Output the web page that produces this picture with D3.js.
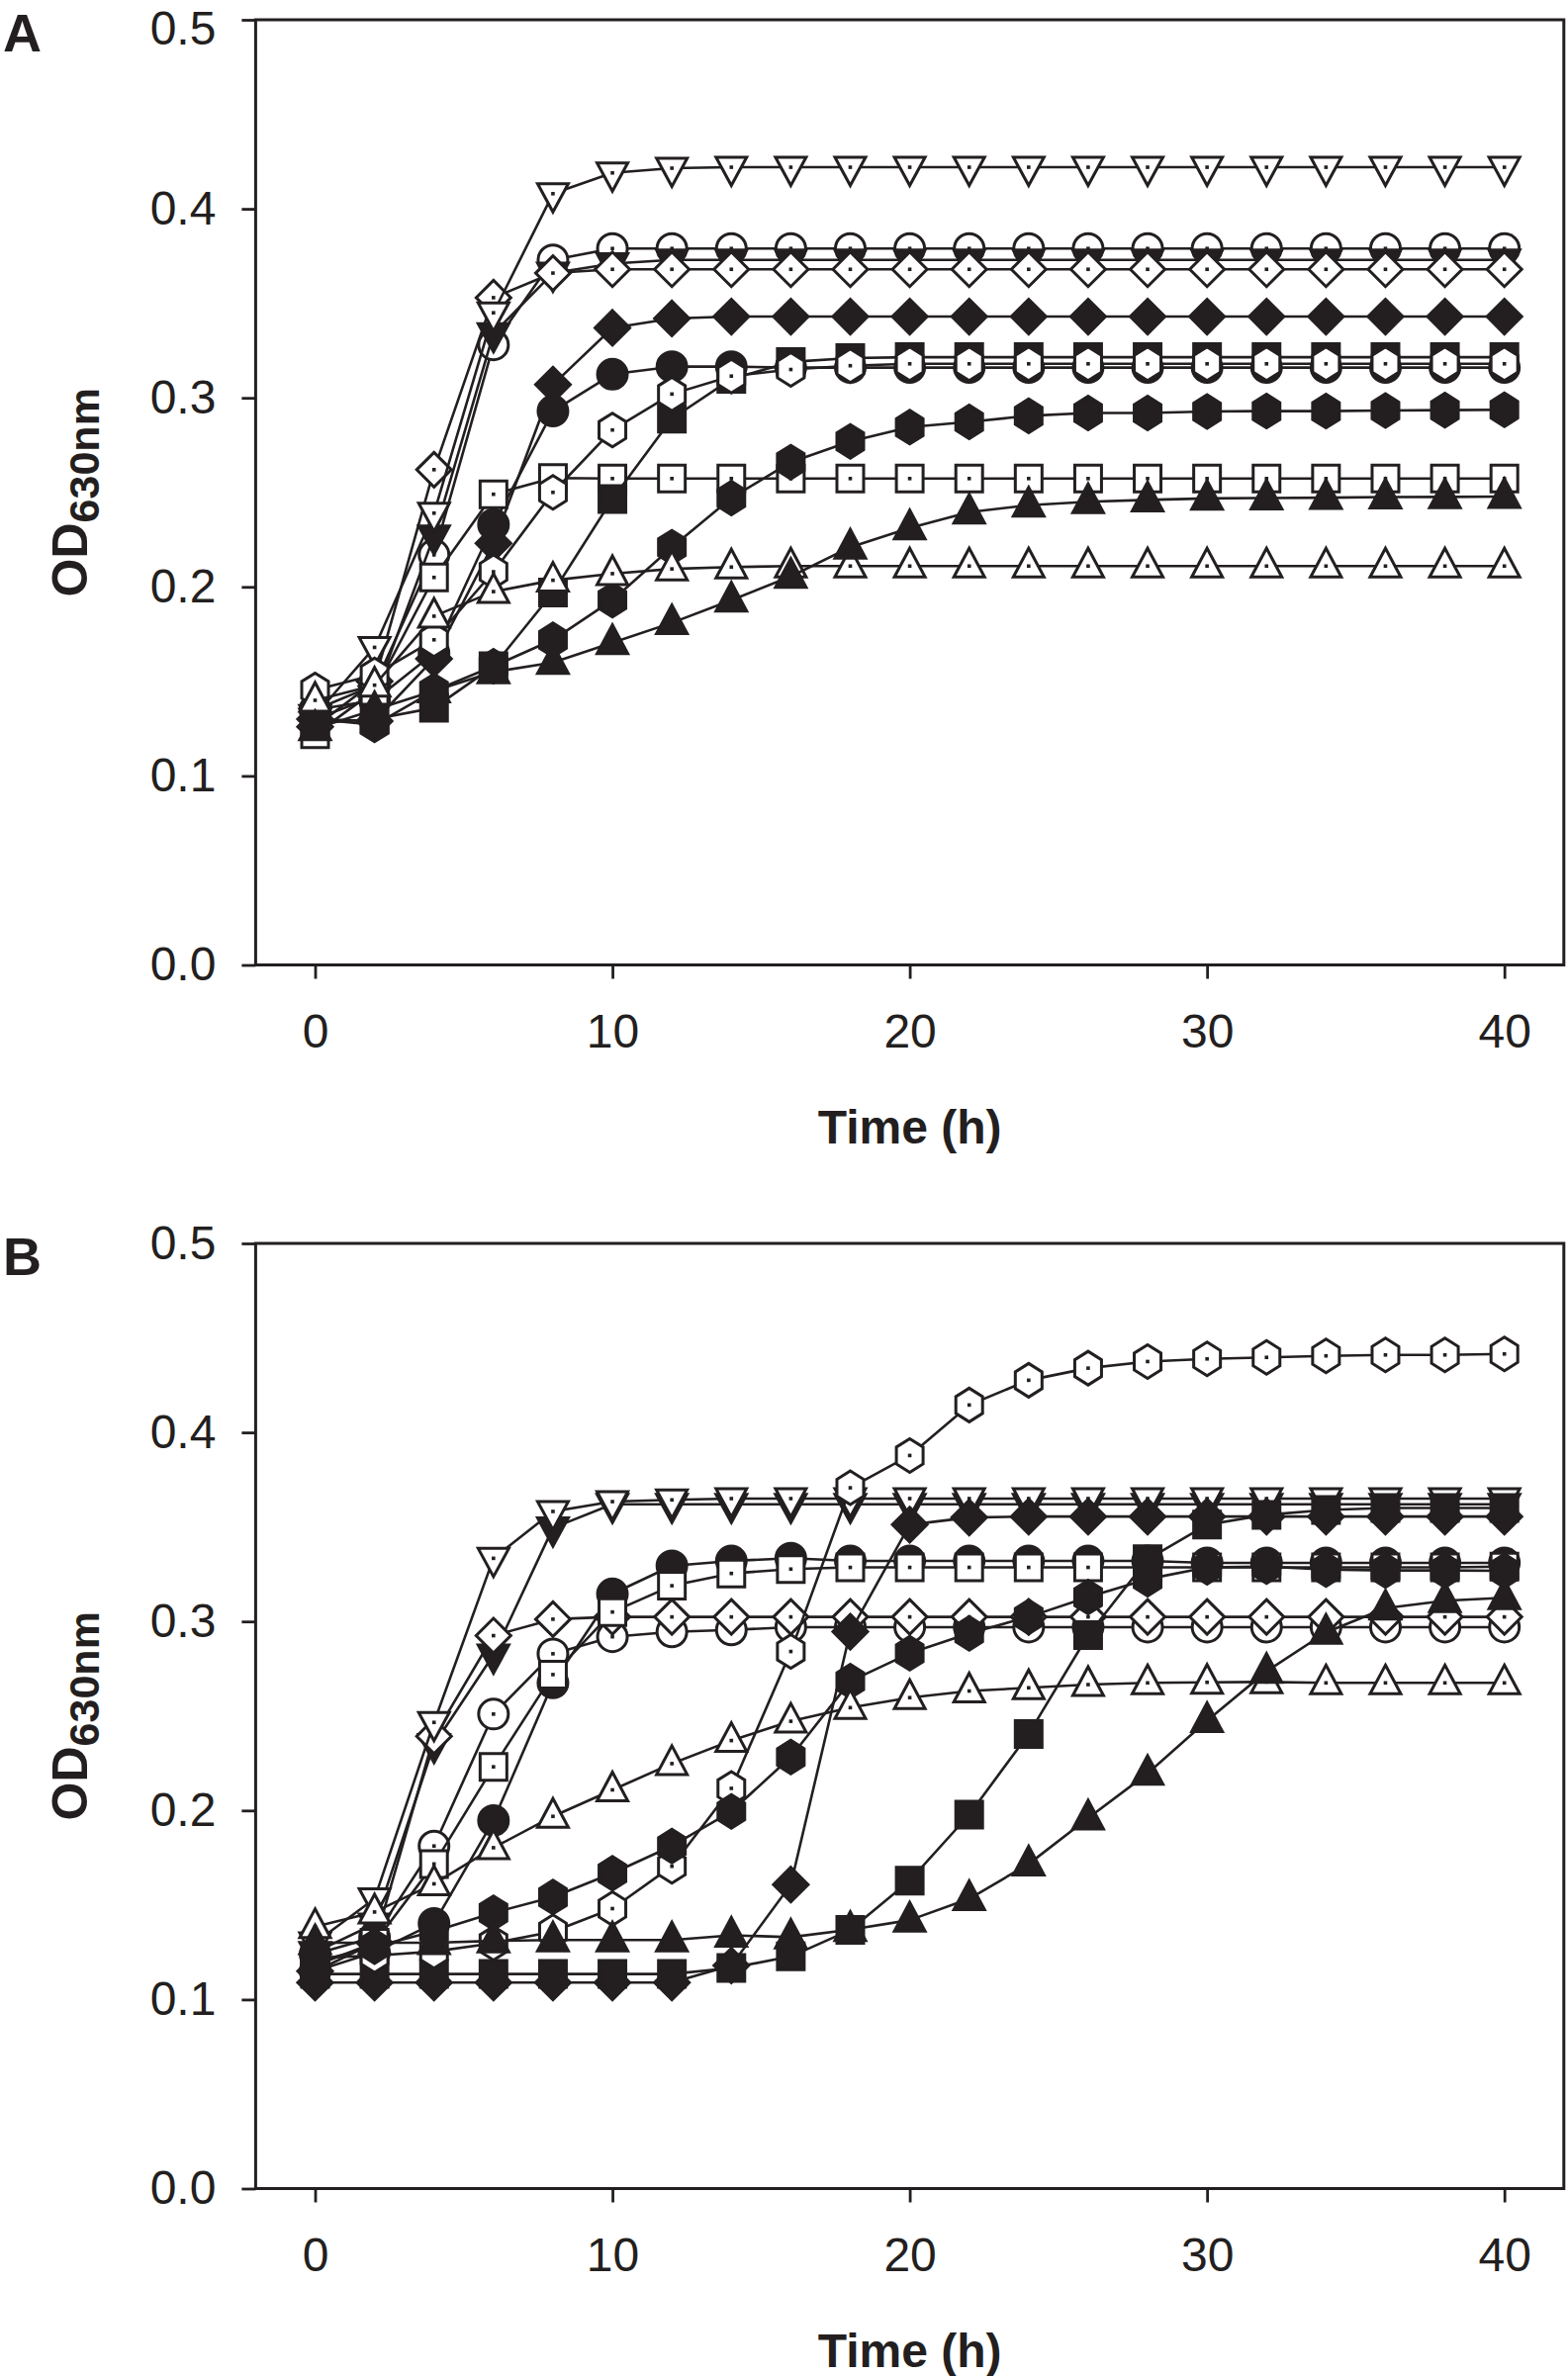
<!DOCTYPE html>
<html>
<head>
<meta charset="utf-8">
<script src="https://cdn.jsdelivr.net/npm/d3@7"></script>
<style>
  html, body { margin: 0; padding: 0; background: #fff; }
  svg { display: block; }
  text { font-family: "Liberation Sans", Arial, sans-serif; fill: #231f20; }
</style>
</head>
<body>
<svg id="chart" width="1585" height="2402"></svg>
<script>
// ---------------- DATA ----------------
const timeH = [0,2,4,6,8,10,12,14,16,18,20,22,24,26,28,30,32,34,36,38,40];
const xTicks = [0,10,20,30,40];
const yTicks = [0,0.1,0.2,0.3,0.4,0.5];
const panelLabels = ["A","B"];
const xTitle = "Time (h)";
const yTitleMain = "OD";
const yTitleSub = "630nm";

// Panel A
const A_openCircle   = [0.135,0.148,0.217,0.328,0.373,0.379,0.379,0.379,0.379,0.379,0.379,0.379,0.379,0.379,0.379,0.379,0.379,0.379,0.379,0.379,0.379];
const A_filledDown   = [0.130,0.142,0.227,0.334,0.366,0.371,0.373,0.373,0.373,0.373,0.373,0.373,0.373,0.373,0.373,0.373,0.373,0.373,0.373,0.373,0.373];
const A_openDiamond  = [0.126,0.150,0.262,0.353,0.366,0.368,0.368,0.368,0.368,0.368,0.368,0.368,0.368,0.368,0.368,0.368,0.368,0.368,0.368,0.368,0.368];
const A_openDown     = [0.132,0.168,0.239,0.345,0.408,0.419,0.4215,0.422,0.422,0.422,0.422,0.422,0.422,0.422,0.422,0.422,0.422,0.422,0.422,0.422,0.422];
const A_filledDiamond= [0.130,0.129,0.162,0.223,0.307,0.337,0.342,0.343,0.343,0.343,0.343,0.343,0.343,0.343,0.343,0.343,0.343,0.343,0.343,0.343,0.343];
const A_filledCircle = [0.135,0.140,0.165,0.233,0.293,0.3125,0.3165,0.3165,0.316,0.316,0.316,0.316,0.316,0.316,0.316,0.316,0.316,0.316,0.316,0.316,0.316];
const A_openSquare   = [0.122,0.145,0.205,0.249,0.2576,0.2573,0.2573,0.2573,0.2573,0.2573,0.2573,0.2573,0.2573,0.2573,0.2573,0.2573,0.2573,0.2573,0.2573,0.2573,0.2573];
const A_filledSquare = [0.128,0.130,0.136,0.158,0.197,0.2465,0.289,0.310,0.319,0.321,0.3215,0.3215,0.3215,0.3215,0.3215,0.3215,0.3215,0.3215,0.3215,0.3215,0.3215];
const A_openHex      = [0.1455,0.1535,0.172,0.208,0.250,0.283,0.302,0.3115,0.315,0.317,0.318,0.318,0.318,0.318,0.318,0.318,0.318,0.318,0.318,0.318,0.318];
const A_filledHex    = [0.130,0.127,0.145,0.158,0.172,0.193,0.221,0.247,0.266,0.277,0.2845,0.2873,0.2905,0.292,0.292,0.2928,0.293,0.293,0.2933,0.2935,0.2937];
const A_openTri      = [0.140,0.148,0.1845,0.1975,0.2035,0.207,0.2095,0.2105,0.211,0.211,0.211,0.211,0.211,0.211,0.211,0.211,0.211,0.211,0.211,0.211,0.211];
const A_filledTri    = [0.125,0.135,0.145,0.155,0.160,0.1705,0.181,0.193,0.2055,0.221,0.2312,0.2395,0.2432,0.245,0.246,0.2468,0.247,0.2472,0.2475,0.2476,0.2478];

// Panel B
const B_openCircle   = [0.124,0.133,0.1812,0.251,0.2829,0.2919,0.2945,0.2955,0.297,0.297,0.297,0.297,0.297,0.297,0.297,0.297,0.297,0.297,0.297,0.297,0.297];
const B_filledDown   = [0.125,0.140,0.235,0.2823,0.3495,0.362,0.362,0.362,0.362,0.362,0.362,0.362,0.362,0.362,0.362,0.362,0.362,0.362,0.362,0.362,0.362];
const B_openDiamond  = [0.115,0.130,0.2393,0.2925,0.3012,0.3024,0.3024,0.3024,0.3024,0.3024,0.3024,0.3024,0.3024,0.3024,0.3024,0.3024,0.3024,0.3024,0.3024,0.3024,0.3024];
const B_openDown     = [0.130,0.1533,0.2466,0.3334,0.3582,0.3634,0.3643,0.365,0.365,0.365,0.365,0.365,0.365,0.365,0.365,0.365,0.365,0.365,0.365,0.365,0.365];
const B_filledDiamond= [0.109,0.109,0.109,0.109,0.109,0.109,0.109,0.118,0.1608,0.2946,0.3512,0.355,0.3555,0.3555,0.3555,0.3555,0.3555,0.3555,0.3555,0.3555,0.3555];
const B_filledCircle = [0.115,0.125,0.1403,0.1947,0.2675,0.3146,0.3294,0.332,0.3335,0.332,0.332,0.332,0.332,0.332,0.332,0.331,0.331,0.331,0.331,0.331,0.331];
const B_openSquare   = [0.118,0.130,0.1717,0.2231,0.2719,0.305,0.3189,0.3254,0.3277,0.3286,0.3286,0.3286,0.3286,0.3286,0.3286,0.3286,0.3286,0.3286,0.3286,0.3286,0.329];
const B_filledSquare = [0.1135,0.1135,0.1135,0.1135,0.1135,0.1135,0.1135,0.1167,0.1228,0.1368,0.1629,0.1978,0.2405,0.2928,0.3329,0.3512,0.3564,0.359,0.360,0.360,0.360];
const B_openHex      = [0.122,0.1232,0.1254,0.1298,0.1359,0.1481,0.1705,0.2117,0.2841,0.3707,0.3878,0.4145,0.4276,0.434,0.4375,0.4389,0.4397,0.4405,0.441,0.441,0.4415];
const B_filledHex    = [0.120,0.128,0.136,0.1459,0.1542,0.1668,0.1812,0.1995,0.2283,0.2684,0.2832,0.2937,0.3024,0.3129,0.3224,0.3286,0.329,0.3275,0.327,0.327,0.3268];
const B_openTri      = [0.1385,0.1463,0.1612,0.1803,0.1969,0.2109,0.2248,0.237,0.2472,0.2544,0.2597,0.2632,0.2649,0.2666,0.2675,0.2678,0.268,0.2675,0.2675,0.2675,0.2675];
const B_filledTri    = [0.130,0.130,0.130,0.131,0.1315,0.1315,0.1315,0.134,0.133,0.137,0.142,0.1533,0.1717,0.196,0.2196,0.2475,0.2736,0.2942,0.307,0.311,0.3125];

// ---------------- DRAWING ----------------
const svg = d3.select("#chart");
const INK = "#231f20";

const frameLeft = 258.4, frameRight = 1580.8, plotH = 955.5;
const panelTops = [20, 1257];

const x = d3.scaleLinear().domain([-2, 42]).range([frameLeft, frameRight]);

// Symbol geometry (style only)
const shapePts = {
  square:  [[-13.5,-13.5],[13.5,-13.5],[13.5,13.5],[-13.5,13.5]],
  diamond: [[0,-17.5],[17.5,0],[0,17.5],[-17.5,0]],
  triUp:   [[0,-18],[15.5,11],[-15.5,11]],
  triDown: [[0,18.5],[15.5,-10],[-15.5,-10]],
  hex:     [[0,-17],[13.5,-8.5],[13.5,8.5],[0,17],[-13.5,8.5],[-13.5,-8.5]]
};
function shapePath(kind) {
  if (kind === "circle") {
    const p = d3.path(); p.arc(0,0,15,0,2*Math.PI); p.closePath(); return p.toString();
  }
  return d3.line()(shapePts[kind]) + "Z";
}

function seriesList(P) {
  return [
    {v: P.openCircle,    kind: "circle",  filled: false},
    {v: P.filledDown,    kind: "triDown", filled: true},
    {v: P.openDiamond,   kind: "diamond", filled: false},
    {v: P.openDown,      kind: "triDown", filled: false},
    {v: P.filledDiamond, kind: "diamond", filled: true},
    {v: P.filledCircle,  kind: "circle",  filled: true},
    {v: P.openSquare,    kind: "square",  filled: false},
    {v: P.filledSquare,  kind: "square",  filled: true},
    {v: P.openHex,       kind: "hex",     filled: false},
    {v: P.filledHex,     kind: "hex",     filled: true},
    {v: P.openTri,       kind: "triUp",   filled: false},
    {v: P.filledTri,     kind: "triUp",   filled: true}
  ];
}

const panels = [
  {openCircle:A_openCircle, filledDown:A_filledDown, openDiamond:A_openDiamond, openDown:A_openDown,
   filledDiamond:A_filledDiamond, filledCircle:A_filledCircle, openSquare:A_openSquare, filledSquare:A_filledSquare,
   openHex:A_openHex, filledHex:A_filledHex, openTri:A_openTri, filledTri:A_filledTri},
  {openCircle:B_openCircle, filledDown:B_filledDown, openDiamond:B_openDiamond, openDown:B_openDown,
   filledDiamond:B_filledDiamond, filledCircle:B_filledCircle, openSquare:B_openSquare, filledSquare:B_filledSquare,
   openHex:B_openHex, filledHex:B_filledHex, openTri:B_openTri, filledTri:B_filledTri}
];

panels.forEach((P, pi) => {
  const top = panelTops[pi];
  const bottom = top + plotH;
  const y = d3.scaleLinear().domain([0, 0.5]).range([bottom, top]);
  const g = svg.append("g");

  // Axes
  const yAxis = d3.axisLeft(y).tickValues(yTicks).tickFormat(d3.format(".1f")).tickSize(14).tickPadding(26);
  const ya = g.append("g").attr("transform", `translate(${frameLeft},0)`).call(yAxis);
  const xAxis = d3.axisBottom(x).tickValues(xTicks).tickFormat(d3.format("d")).tickSize(14).tickPadding(35);
  const xa = g.append("g").attr("transform", `translate(0,${bottom})`).call(xAxis);
  [ya, xa].forEach(a => {
    a.select(".domain").remove();
    a.selectAll(".tick line").attr("stroke", INK).attr("stroke-width", 2.8);
    a.selectAll(".tick text").attr("font-size", 48).attr("fill", INK)
      .style("font-family", '"Liberation Sans", Arial, sans-serif');
  });
  // keep the top label of the first panel fully inside the page
  if (pi === 0) ya.selectAll(".tick text").filter(d => d === 0.5).attr("dy", "0.5em");

  // Frame
  g.append("rect")
    .attr("x", frameLeft).attr("y", top)
    .attr("width", frameRight - frameLeft).attr("height", plotH)
    .attr("fill", "none").attr("stroke", INK).attr("stroke-width", 3);

  // Panel letter
  g.append("text").attr("x", 3).attr("y", top + 32)
    .attr("font-size", 54).attr("font-weight", "bold").text(panelLabels[pi]);

  // Axis titles
  g.append("text")
    .attr("x", (frameLeft + frameRight) / 2).attr("y", bottom + 180)
    .attr("text-anchor", "middle").attr("font-size", 48).attr("font-weight", "bold")
    .text(xTitle);

  const yt = g.append("text")
    .attr("transform", `translate(88,${(top + bottom) / 2}) rotate(-90)`)
    .attr("text-anchor", "middle").attr("font-weight", "bold");
  yt.append("tspan").attr("font-size", 50).text(yTitleMain);
  yt.append("tspan").attr("font-size", 43).attr("dy", 12).text(yTitleSub);

  // Series
  const line = d3.line().x((d, i) => x(timeH[i])).y(d => y(d));
  seriesList(P).forEach(s => {
    const sg = g.append("g");
    sg.append("path").attr("d", line(s.v))
      .attr("fill", "none").attr("stroke", INK).attr("stroke-width", 2.6)
      .attr("stroke-linejoin", "round");
    const d = shapePath(s.kind);
    const m = sg.selectAll("g.m").data(s.v).join("g")
      .attr("class", "m")
      .attr("transform", (v, i) => `translate(${x(timeH[i])},${y(v)})`);
    m.append("path").attr("d", d)
      .attr("fill", s.filled ? INK : "#fff")
      .attr("stroke", INK).attr("stroke-width", 3)
      .attr("stroke-linejoin", "miter");
    if (!s.filled) {
      m.append("rect").attr("x", -1.8).attr("y", -1.8).attr("width", 3.6).attr("height", 3.6)
        .attr("fill", INK);
    }
  });
});
</script>
</body>
</html>
